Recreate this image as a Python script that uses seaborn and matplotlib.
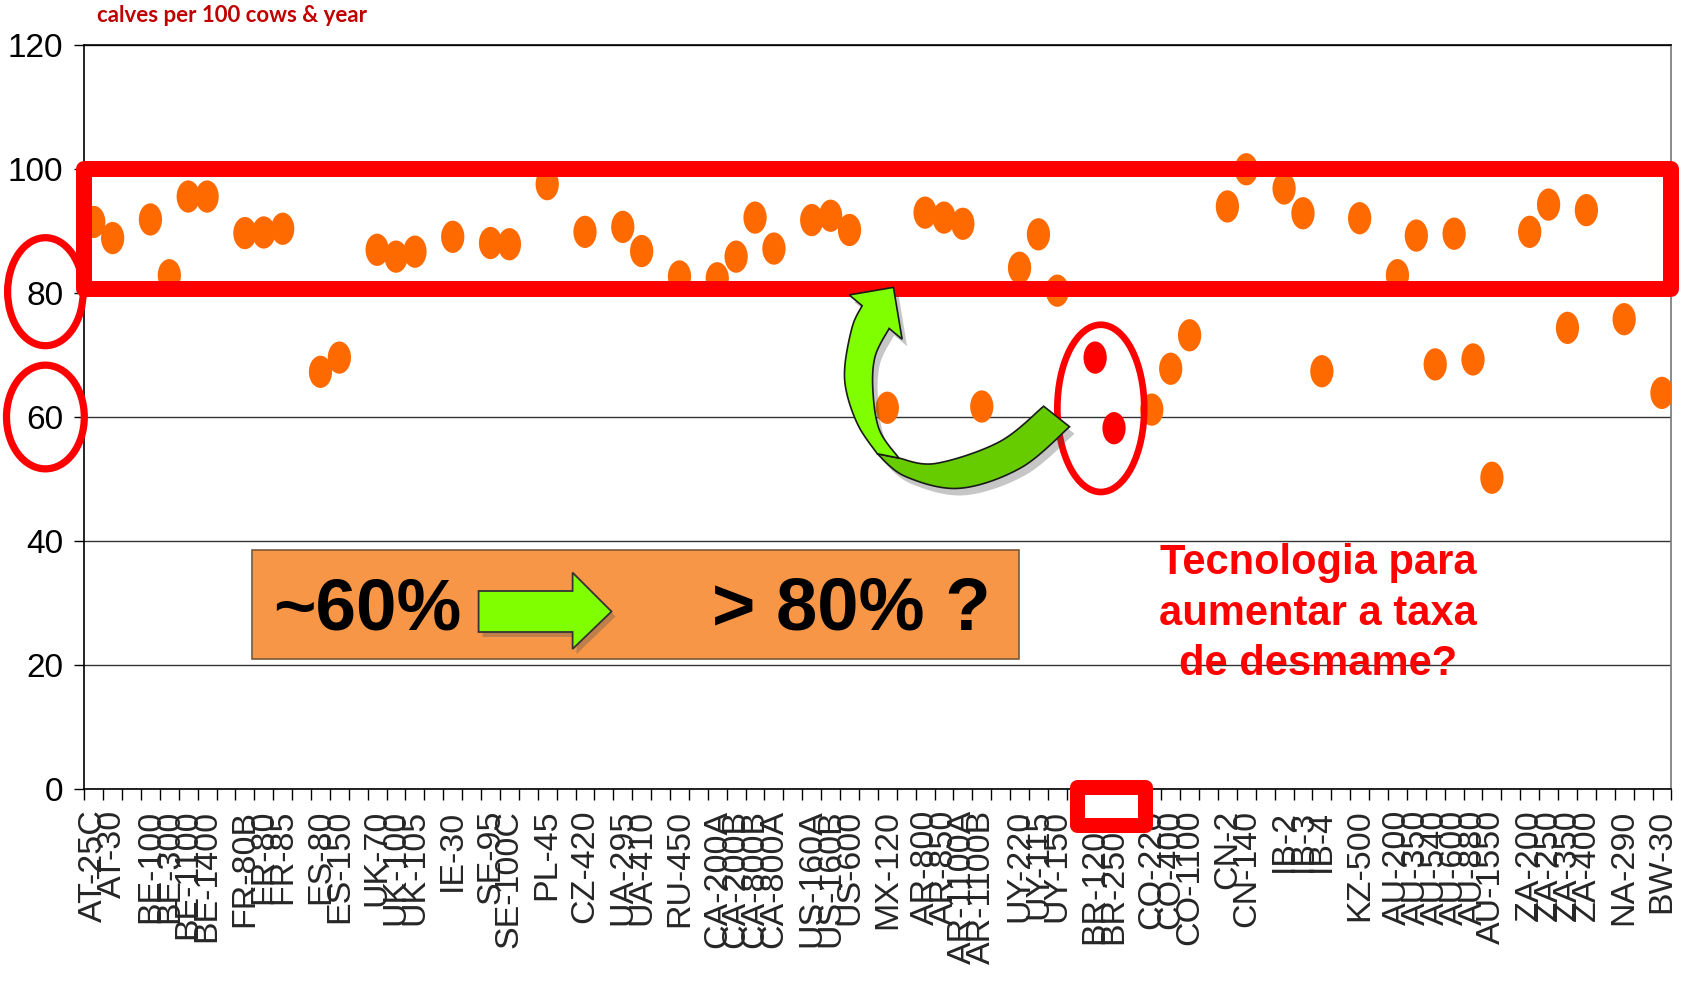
import numpy as np
import pandas as pd
import matplotlib
matplotlib.use("Agg")
import matplotlib.pyplot as plt
import seaborn as sns
from matplotlib import font_manager
from matplotlib.patches import Rectangle, Ellipse, Polygon
from matplotlib.path import Path
from matplotlib.markers import MarkerStyle
from matplotlib.transforms import Affine2D

# Weaning rate per typical farm (calves per 100 cows and year)
farms = [
    "AT-25C", "AT-30",
    "BE-100", "BE-300", "BE-1100", "BE-1400",
    "FR-80B", "FR-80", "FR-85",
    "ES-80", "ES-150",
    "UK-70", "UK-100", "UK-105",
    "IE-30",
    "SE-95", "SE-100C",
    "PL-45",
    "CZ-420",
    "UA-295", "UA-410",
    "RU-450",
    "CA-200A", "CA-200B", "CA-800B", "CA-800A",
    "US-160A", "US-160B", "US-600",
    "MX-120",
    "AR-800", "AR-850", "AR-1100A", "AR-1100B",
    "UY-220", "UY-115", "UY-150",
    "BR-1200", "BR-2500",
    "CO-220", "CO-400", "CO-1100",
    "CN-2", "CN-140",
    "IB-2", "IB-3", "IB-4",
    "KZ-500",
    "AU-200", "AU-350", "AU-540", "AU-600", "AU-880", "AU-1550",
    "ZA-200", "ZA-250", "ZA-350", "ZA-400",
    "NA-290",
    "BW-30",
]
rates = [
    91.5, 88.9,
    91.9, 82.9, 95.6, 95.6,
    89.7, 89.8, 90.4,
    67.3, 69.6,
    87.0, 85.9, 86.7,
    89.1,
    88.1, 87.9,
    97.6,
    89.9,
    90.7, 86.8,
    82.7,
    82.4, 85.9, 92.2, 87.2,
    91.8, 92.5, 90.2,
    61.5,
    93.0, 92.2, 91.2, 61.7,
    84.1, 89.5, 80.4,
    69.6, 58.2,
    61.2, 67.8, 73.2,
    94.0, 100.0,
    96.9, 92.9, 67.4,
    92.1,
    82.9, 89.3, 68.5, 89.6, 69.3, 50.2,
    89.9, 94.3, 74.4, 93.4,
    75.8,
    63.9,
]
highlight = ["BR-1200", "BR-2500"]

y_ticks = [0, 20, 40, 60, 80, 100, 120]
unit_label = "calves per 100 cows & year"
box_from = "~60%"
box_to = "> 80% ?"
question_lines = ["Tecnologia para", "aumentar a taxa", "de desmame?"]

W, H = 1694, 985
sns.set_theme(style="white")
plt.rcParams["font.family"] = ["Liberation Sans", "DejaVu Sans"]

installed = {f.name for f in font_manager.fontManager.ttflist}
narrow = "Liberation Sans Narrow" if "Liberation Sans Narrow" in installed else "Liberation Sans"
ytick_size = 26 if narrow == "Liberation Sans Narrow" else 24

fig = plt.figure(figsize=(W / 100, H / 100), dpi=100)
ax_left, ax_right, ax_top, ax_bottom = 84.3, 1671.4, 45.4, 788.7
ax = fig.add_axes([ax_left / W, 1 - ax_bottom / H,
                   (ax_right - ax_left) / W, (ax_bottom - ax_top) / H])

# pixel coordinates (origin top-left) -> figure
px = Affine2D().scale(1 / W, -1 / H).translate(0, 1) + fig.transFigure

# one empty slot between countries
slots, tick_text, prev = [], [], None
for f in farms:
    country = f.split("-")[0]
    if prev is not None and country != prev:
        tick_text.append("")
    slots.append(len(tick_text))
    tick_text.append(f)
    prev = country
n_slots = len(tick_text)

df = pd.DataFrame({
    "slot": slots,
    "rate": rates,
    "group": ["focus" if f in highlight else "other" for f in farms],
})

oval = MarkerStyle(Path.unit_circle().transformed(Affine2D().scale(0.72, 1.0)))
sns.scatterplot(data=df, x="slot", y="rate", hue="group",
                palette={"other": "#FF6A00", "focus": "#FF0000"},
                marker=oval, s=540, linewidth=0, edgecolor="none",
                legend=False, ax=ax, zorder=3)

ax.set_xlim(-0.5, n_slots - 0.5)
ax.set_ylim(0, 120)
ax.set_xlabel("")
ax.set_ylabel("")
ax.set_yticks(y_ticks)
ax.set_yticklabels([str(v) for v in y_ticks], family=[narrow, "DejaVu Sans"],
                   fontsize=ytick_size)
ax.set_xticks(np.arange(n_slots + 1) - 0.5)
ax.set_xticklabels([])
ax.set_xticks(np.arange(n_slots), minor=True)
ax.set_xticklabels(tick_text, minor=True, rotation=90, fontsize=24.5)
ax.tick_params(axis="x", which="major", bottom=True, length=8, width=1, color="black",
               direction="out")
ax.tick_params(axis="x", which="minor", bottom=True, length=0, pad=15)
ax.tick_params(axis="y", left=True, length=7, width=1, color="black", direction="out",
               pad=8, labelcolor="black")
ax.yaxis.grid(True, color="#333333", lw=1)
ax.set_axisbelow(True)
for side in ["left", "bottom", "top"]:
    ax.spines[side].set_color("black")
    ax.spines[side].set_linewidth(1.2)
ax.spines["right"].set_color("#777777")
ax.spines["right"].set_linewidth(1.2)

# target band 80-100
ax.add_patch(Rectangle((-0.5, 80.7), n_slots, 19.3, fill=False, ec="#FF0000", lw=11.5,
                       joinstyle="round", clip_on=False, zorder=4))

# ring around the highlighted farms
ax.add_patch(Ellipse((53.3, 61.4), 4.6, 27.0, fill=False, ec="#FF0000", lw=4.8,
                     clip_on=False, zorder=4))

# rings around the 80 and 60 tick labels
for cy, w, h in [(291.7, 75.6, 108.0), (417.0, 77.8, 103.7)]:
    fig.patches.append(Ellipse((45.4, cy), w, h, fill=False, ec="#FF0000", lw=5.2,
                               transform=px, zorder=6))

# box on the axis under the highlighted farms
fig.patches.append(Rectangle((1076.5, 786.5), 68, 38, fc="white", ec="#FF0000", lw=10.8,
                             joinstyle="round", transform=px, zorder=6))

# unit label
fig.text(97 / W, 1 - 16 / H, unit_label, color="#C00000", fontsize=16,
         family=["Lato", "DejaVu Sans"], fontweight="bold", ha="left", va="center")

# orange message box
fig.patches.append(Rectangle((251.7, 550), 767, 109, fc="#F79646", ec="#7A5A3A", lw=1.2,
                             transform=px, zorder=5))
fig.text(273 / W, 1 - 610 / H, box_from, fontsize=52.5, fontweight="bold", color="black",
         ha="left", va="center", zorder=7)
fig.text(712 / W, 1 - 610 / H, box_to, fontsize=53.5, fontweight="bold", color="black",
         ha="left", va="center", zorder=7)

arrow_pts = np.array([(478.6, 591), (572.6, 591), (572.6, 572.6), (611.5, 611.5),
                      (572.6, 649), (572.6, 632), (478.6, 632)])
fig.patches.append(Polygon(arrow_pts + [4, 5], closed=True, fc="#555555", ec="none",
                           alpha=0.35, transform=px, zorder=6))
fig.patches.append(Polygon(arrow_pts, closed=True, fc="#80FF00", ec="#333333", lw=1.3,
                           transform=px, zorder=7))

# question text
for yy, line in zip([563, 614, 664], question_lines):
    fig.text(1318 / W, 1 - yy / H, line, color="#FF0000", fontsize=30, fontweight="bold",
             ha="center", va="center", zorder=7)


# curved arrow from the highlighted farms up to the band
def smooth(pts, n=16):
    pts = np.asarray(pts, float)
    P = np.vstack([pts[0], pts, pts[-1]])
    out = []
    t = np.linspace(0, 1, n, endpoint=False)[:, None]
    for i in range(1, len(P) - 2):
        p0, p1, p2, p3 = P[i - 1], P[i], P[i + 1], P[i + 2]
        out.append(0.5 * (2 * p1 + (-p0 + p2) * t + (2 * p0 - 5 * p1 + 4 * p2 - p3) * t ** 2
                          + (-p0 + 3 * p1 - 3 * p2 + p3) * t ** 3))
    out.append(P[-2][None])
    return np.vstack(out)


k = W / 1568.0
outer_low = [(990, 395), (945, 433), (888, 452), (838, 441), (812, 420)]
outer_up = [(812, 420), (795, 395), (784, 365), (782, 339), (789, 302), (798, 283)]
inner_low = [(966, 376), (925, 409), (866, 429), (832, 424)]
inner_up = [(832, 424), (814, 398), (808, 362), (810, 330), (823, 304)]
head = [(786, 273), (827, 266), (835, 314)]

o_low = smooth(outer_low) * k
o_up = smooth(outer_up) * k
i_low = smooth(inner_low) * k
i_up = smooth(inner_up) * k
h = np.array(head) * k

full_poly = np.vstack([o_low, o_up, h, i_up[::-1], i_low[::-1]])
low_poly = np.vstack([o_low, i_low[::-1]])
up_poly = np.vstack([o_up, h, i_up[::-1]])

fig.patches.append(Polygon(full_poly + [5, 7], closed=True, fc="#444444", ec="none",
                           alpha=0.3, transform=px, zorder=6))
fig.patches.append(Polygon(low_poly, closed=True, fc="#66CC00", ec="#1a1a1a", lw=1.2,
                           transform=px, zorder=7))
fig.patches.append(Polygon(up_poly, closed=True, fc="#80FF00", ec="#1a1a1a", lw=1.2,
                           transform=px, zorder=7))

fig.savefig("out.png", dpi=100, facecolor="white")
